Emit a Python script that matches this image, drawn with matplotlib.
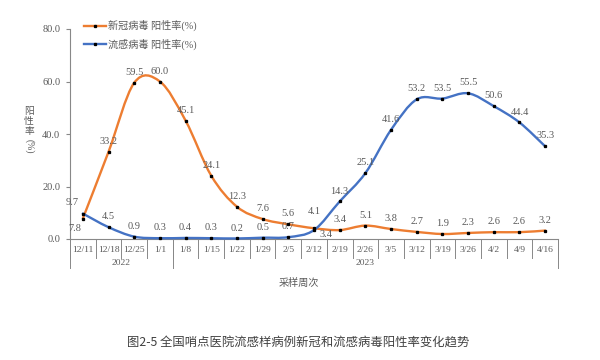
import matplotlib.pyplot as plt
from matplotlib.path import Path
from matplotlib.patches import PathPatch
from matplotlib.lines import Line2D
import matplotlib.transforms as mtransforms

weeks = ['12/11', '12/18', '12/25', '1/1', '1/8', '1/15', '1/22', '1/29', '2/5', '2/12',
         '2/19', '2/26', '3/5', '3/12', '3/19', '3/26', '4/2', '4/9', '4/16']
years = ['2022', '2023']
year_counts = [4, 15]
covid = [7.8, 33.2, 59.5, 60.0, 45.1, 24.1, 12.3, 7.6, 5.6, 4.1,
         3.4, 5.1, 3.8, 2.7, 1.9, 2.3, 2.6, 2.6, 3.2]
flu = [9.7, 4.5, 0.9, 0.3, 0.4, 0.3, 0.2, 0.5, 0.7, 3.4,
       14.3, 25.1, 41.6, 53.2, 53.5, 55.5, 50.6, 44.4, 35.3]

ORANGE = '#ED7D31'
BLUE = '#4472C4'
GREY = '#595959'
SERIF = ['Liberation Serif', 'Noto Sans CJK SC']
CJK = ['Noto Sans CJK SC', 'DejaVu Sans']

# label offsets in points (dx, dy), default above the point
covid_off = {0: (-6, -7), 9: (0, 12)}
flu_off = {0: (-8, 8), 9: (9, -3)}


def smooth_path(xs, ys):
    # excel-like smoothed line: bezier control points from neighbours
    verts = [(xs[0], ys[0])]
    codes = [Path.MOVETO]
    n = len(xs)
    for i in range(n - 1):
        p0 = (xs[max(i - 1, 0)], ys[max(i - 1, 0)])
        p1 = (xs[i], ys[i])
        p2 = (xs[i + 1], ys[i + 1])
        p3 = (xs[min(i + 2, n - 1)], ys[min(i + 2, n - 1)])
        c1 = (p1[0] + (p2[0] - p0[0]) / 6, p1[1] + (p2[1] - p0[1]) / 6)
        c2 = (p2[0] - (p3[0] - p1[0]) / 6, p2[1] - (p3[1] - p1[1]) / 6)
        verts += [c1, c2, p2]
        codes += [Path.CURVE4] * 3
    return Path(verts, codes)


fig = plt.figure(figsize=(6, 3.6), dpi=100)
ax = fig.add_axes([70 / 600, 1 - 239 / 360, 488 / 600, 210 / 360])

x = list(range(len(weeks)))
for vals, col, offs in [(covid, ORANGE, covid_off), (flu, BLUE, flu_off)]:
    ax.add_patch(PathPatch(smooth_path(x, vals), facecolor='none', edgecolor=col,
                           lw=1.7, capstyle='round', zorder=3, clip_on=False))
    ax.plot(x, vals, 's', ms=1.4, color='black', zorder=4, clip_on=False)
    for i, v in enumerate(vals):
        dx, dy = offs.get(i, (0, 7.5))
        ax.annotate(f'{v:.1f}', (i, v), xytext=(dx, dy), textcoords='offset points',
                    ha='center', va='center', fontsize=7.5, color=GREY, family=SERIF)

ax.set_xlim(-0.5, len(weeks) - 0.5)
ax.set_ylim(0, 80)
ax.set_yticks([0, 20, 40, 60, 80])
ax.set_yticklabels([f'{t:.1f}' for t in [0, 20, 40, 60, 80]], family=SERIF,
                   fontsize=7.5, color=GREY)
ax.set_xticks(x)
ax.set_xticklabels(weeks, family=SERIF, fontsize=6.8, color=GREY)
ax.tick_params(axis='x', length=0, pad=5)
ax.tick_params(axis='y', length=3, color='#888888', pad=4)
for s in ['top', 'right']:
    ax.spines[s].set_visible(False)
for s in ['left', 'bottom']:
    ax.spines[s].set_color('#888888')
    ax.spines[s].set_linewidth(0.8)

# category separators and year groups below the axis
trans = mtransforms.blended_transform_factory(ax.transData, ax.transAxes)
for i in range(len(weeks) + 1):
    ax.plot([i - 0.5, i - 0.5], [0, -0.09], color='#888888', lw=0.7,
            transform=trans, clip_on=False)
start = 0
for yr, cnt in zip(years, year_counts):
    ax.plot([start - 0.5, start - 0.5], [0, -0.14], color='#888888', lw=0.7,
            transform=trans, clip_on=False)
    ax.text(start + (cnt - 1) / 2, -0.115, yr, transform=trans, ha='center',
            va='center', fontsize=6.8, color=GREY, family=SERIF)
    start += cnt
ax.plot([start - 0.5, start - 0.5], [0, -0.14], color='#888888', lw=0.7,
        transform=trans, clip_on=False)

# legend
handles = []
for col in [ORANGE, BLUE]:
    h = Line2D([0, 1, 2], [0, 0, 0], color=col, lw=1.7, marker='s', ms=1.4,
               mfc='black', mec='black', markevery=[1])
    handles.append(h)
leg = ax.legend(handles, ['新冠病毒 阳性率(%)', '流感病毒 阳性率(%)'],
                loc='upper left', bbox_to_anchor=(75 / 600, 1 - 11 / 360),
                bbox_transform=fig.transFigure, frameon=False,
                prop={'family': SERIF, 'size': 7.3}, handlelength=2.2,
                handletextpad=0.15, labelspacing=0.75)
for t in leg.get_texts():
    t.set_color(GREY)

# y label: stacked characters then rotated (%)
for j, ch in enumerate('阳性率'):
    fig.text(29 / 600, 1 - (111 + j * 10) / 360, ch, ha='center', va='center',
             fontsize=7, color=GREY, family=CJK)
fig.text(29 / 600, 1 - 146 / 360, '(%)', ha='center', va='center', rotation=270,
         fontsize=7, color=GREY, family=SERIF)

fig.text(299 / 600, 1 - 283 / 360, '采样周次', ha='center', va='center',
         fontsize=7.3, color=GREY, family=CJK)
fig.text(298 / 600, 1 - 343 / 360, '图2-5 全国哨点医院流感样病例新冠和流感病毒阳性率变化趋势',
         ha='center', va='center', fontsize=8.9, color='#404040', family=CJK)

fig.savefig('out.png', dpi=100)
